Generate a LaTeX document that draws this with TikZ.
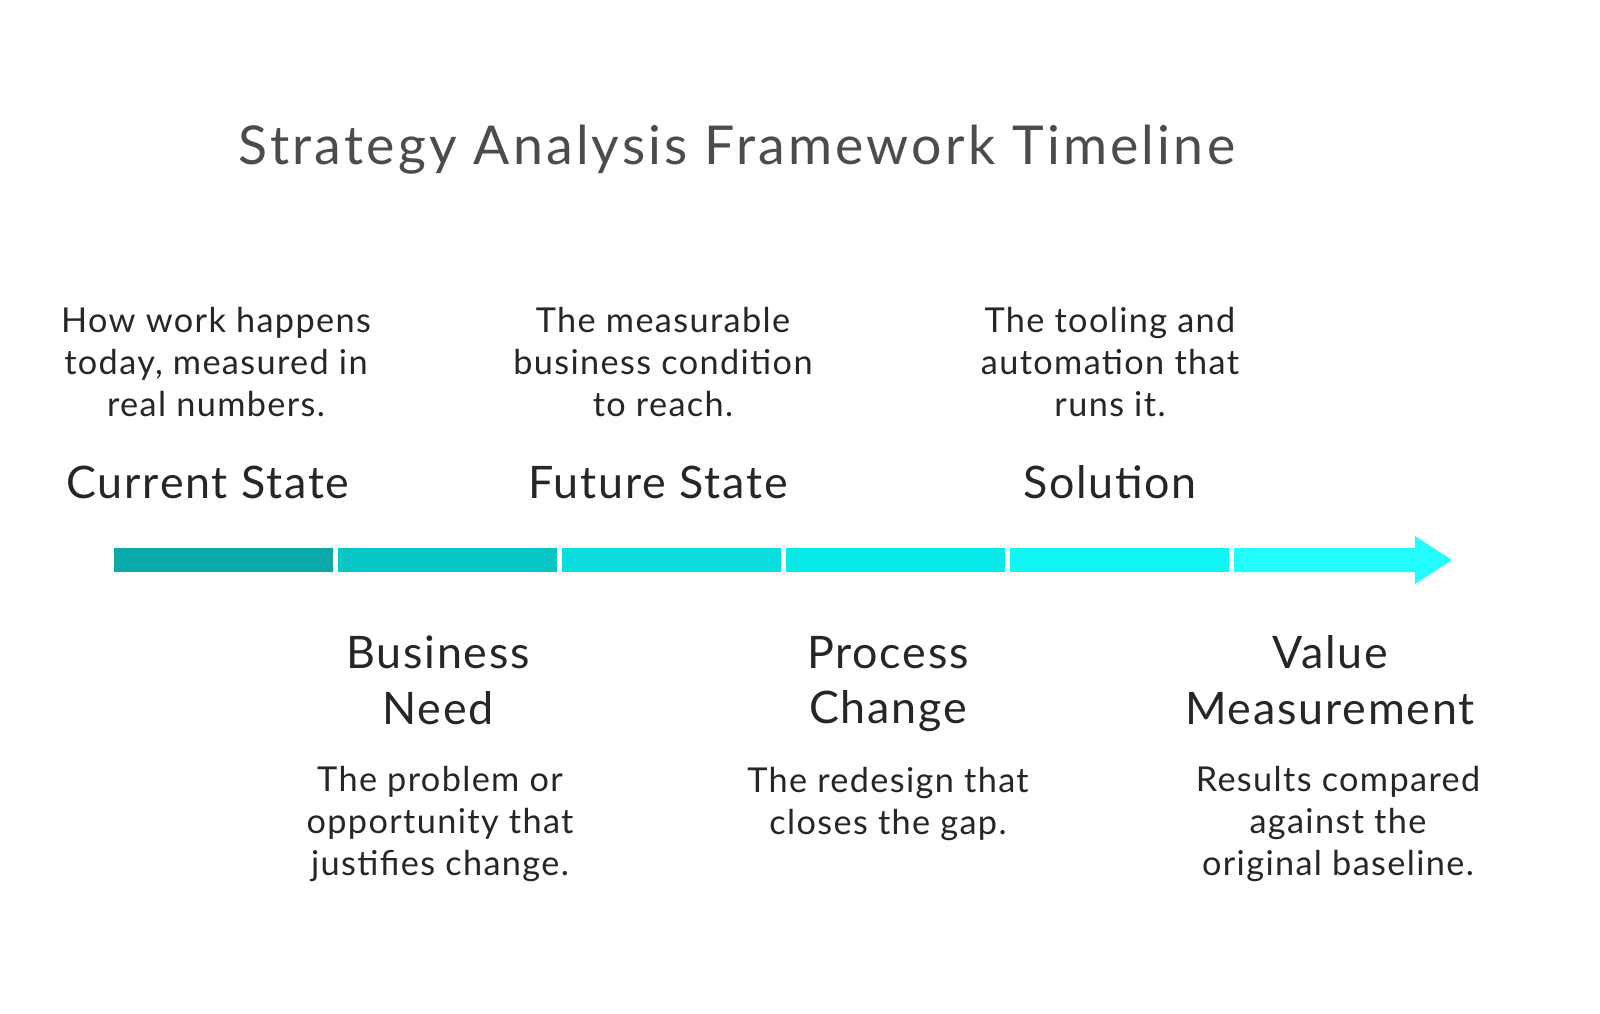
\documentclass[tikz,border=0pt]{standalone}
\usepackage{fontspec}
\setmainfont{Lato}[LetterSpace=4]
\begin{document}
\begin{tikzpicture}[x=0.02cm,y=-0.02cm,
  title/.style={font=\fontsize{30.5}{36}\selectfont\addfontfeatures{LetterSpace=6}, text=black!70},
  lab/.style={font=\fontsize{25.5}{31.8}\selectfont, text=black!85, align=center},
  desc/.style={font=\fontsize{19.5}{23.8}\selectfont, text=black!85, align=center},
  seg/.style={draw=none}]
\useasboundingbox[fill=white] (0,0) rectangle (1600,1014);
\definecolor{c1}{HTML}{0AAAAA}\definecolor{c2}{HTML}{08C6C6}\definecolor{c3}{HTML}{08DCDC}
\definecolor{c4}{HTML}{08E9E9}\definecolor{c5}{HTML}{10F6F6}\definecolor{c6}{HTML}{22FCFC}
\node[title] (t) at (737,150) {Strategy Analysis Framework Timeline};
\fill[c1] (114,548) rectangle (333,572);
\fill[c2] (338,548) rectangle (557,572);
\fill[c3] (562,548) rectangle (781,572);
\fill[c4] (786,548) rectangle (1005,572);
\fill[c5] (1010,548) rectangle (1229,572);
\fill[c6] (1234,548) -- (1415,548) -- (1415,536) -- (1452,560) -- (1415,584) -- (1415,572) -- (1234,572) -- cycle;
\node[desc] (d1) at (216,362) {How work happens\\today, measured in\\real numbers.};
\node[lab] (l1) at (208,482) {Current State};
\node[desc] (d3) at (663,362) {The measurable\\business condition\\to reach.};
\node[lab] (l3) at (658,482) {Future State};
\node[desc] (d5) at (1110,362) {The tooling and\\automation that\\runs it.};
\node[lab] (l5) at (1110,482) {Solution};
\node[lab] (l2) at (438,680) {Business\\Need};
\node[desc] (d2) at (440,824) {The problem or\\opportunity that\\justifies change.};
\node[lab] (l4) at (888,684) {Process\\Change};
\node[desc] (d4) at (888,804) {The redesign that\\closes the gap.};
\node[lab] (l6) at (1330,680) {Value\\Measurement};
\node[desc] (d6) at (1338,824) {Results compared\\against the\\original baseline.};
\end{tikzpicture}
\end{document}
